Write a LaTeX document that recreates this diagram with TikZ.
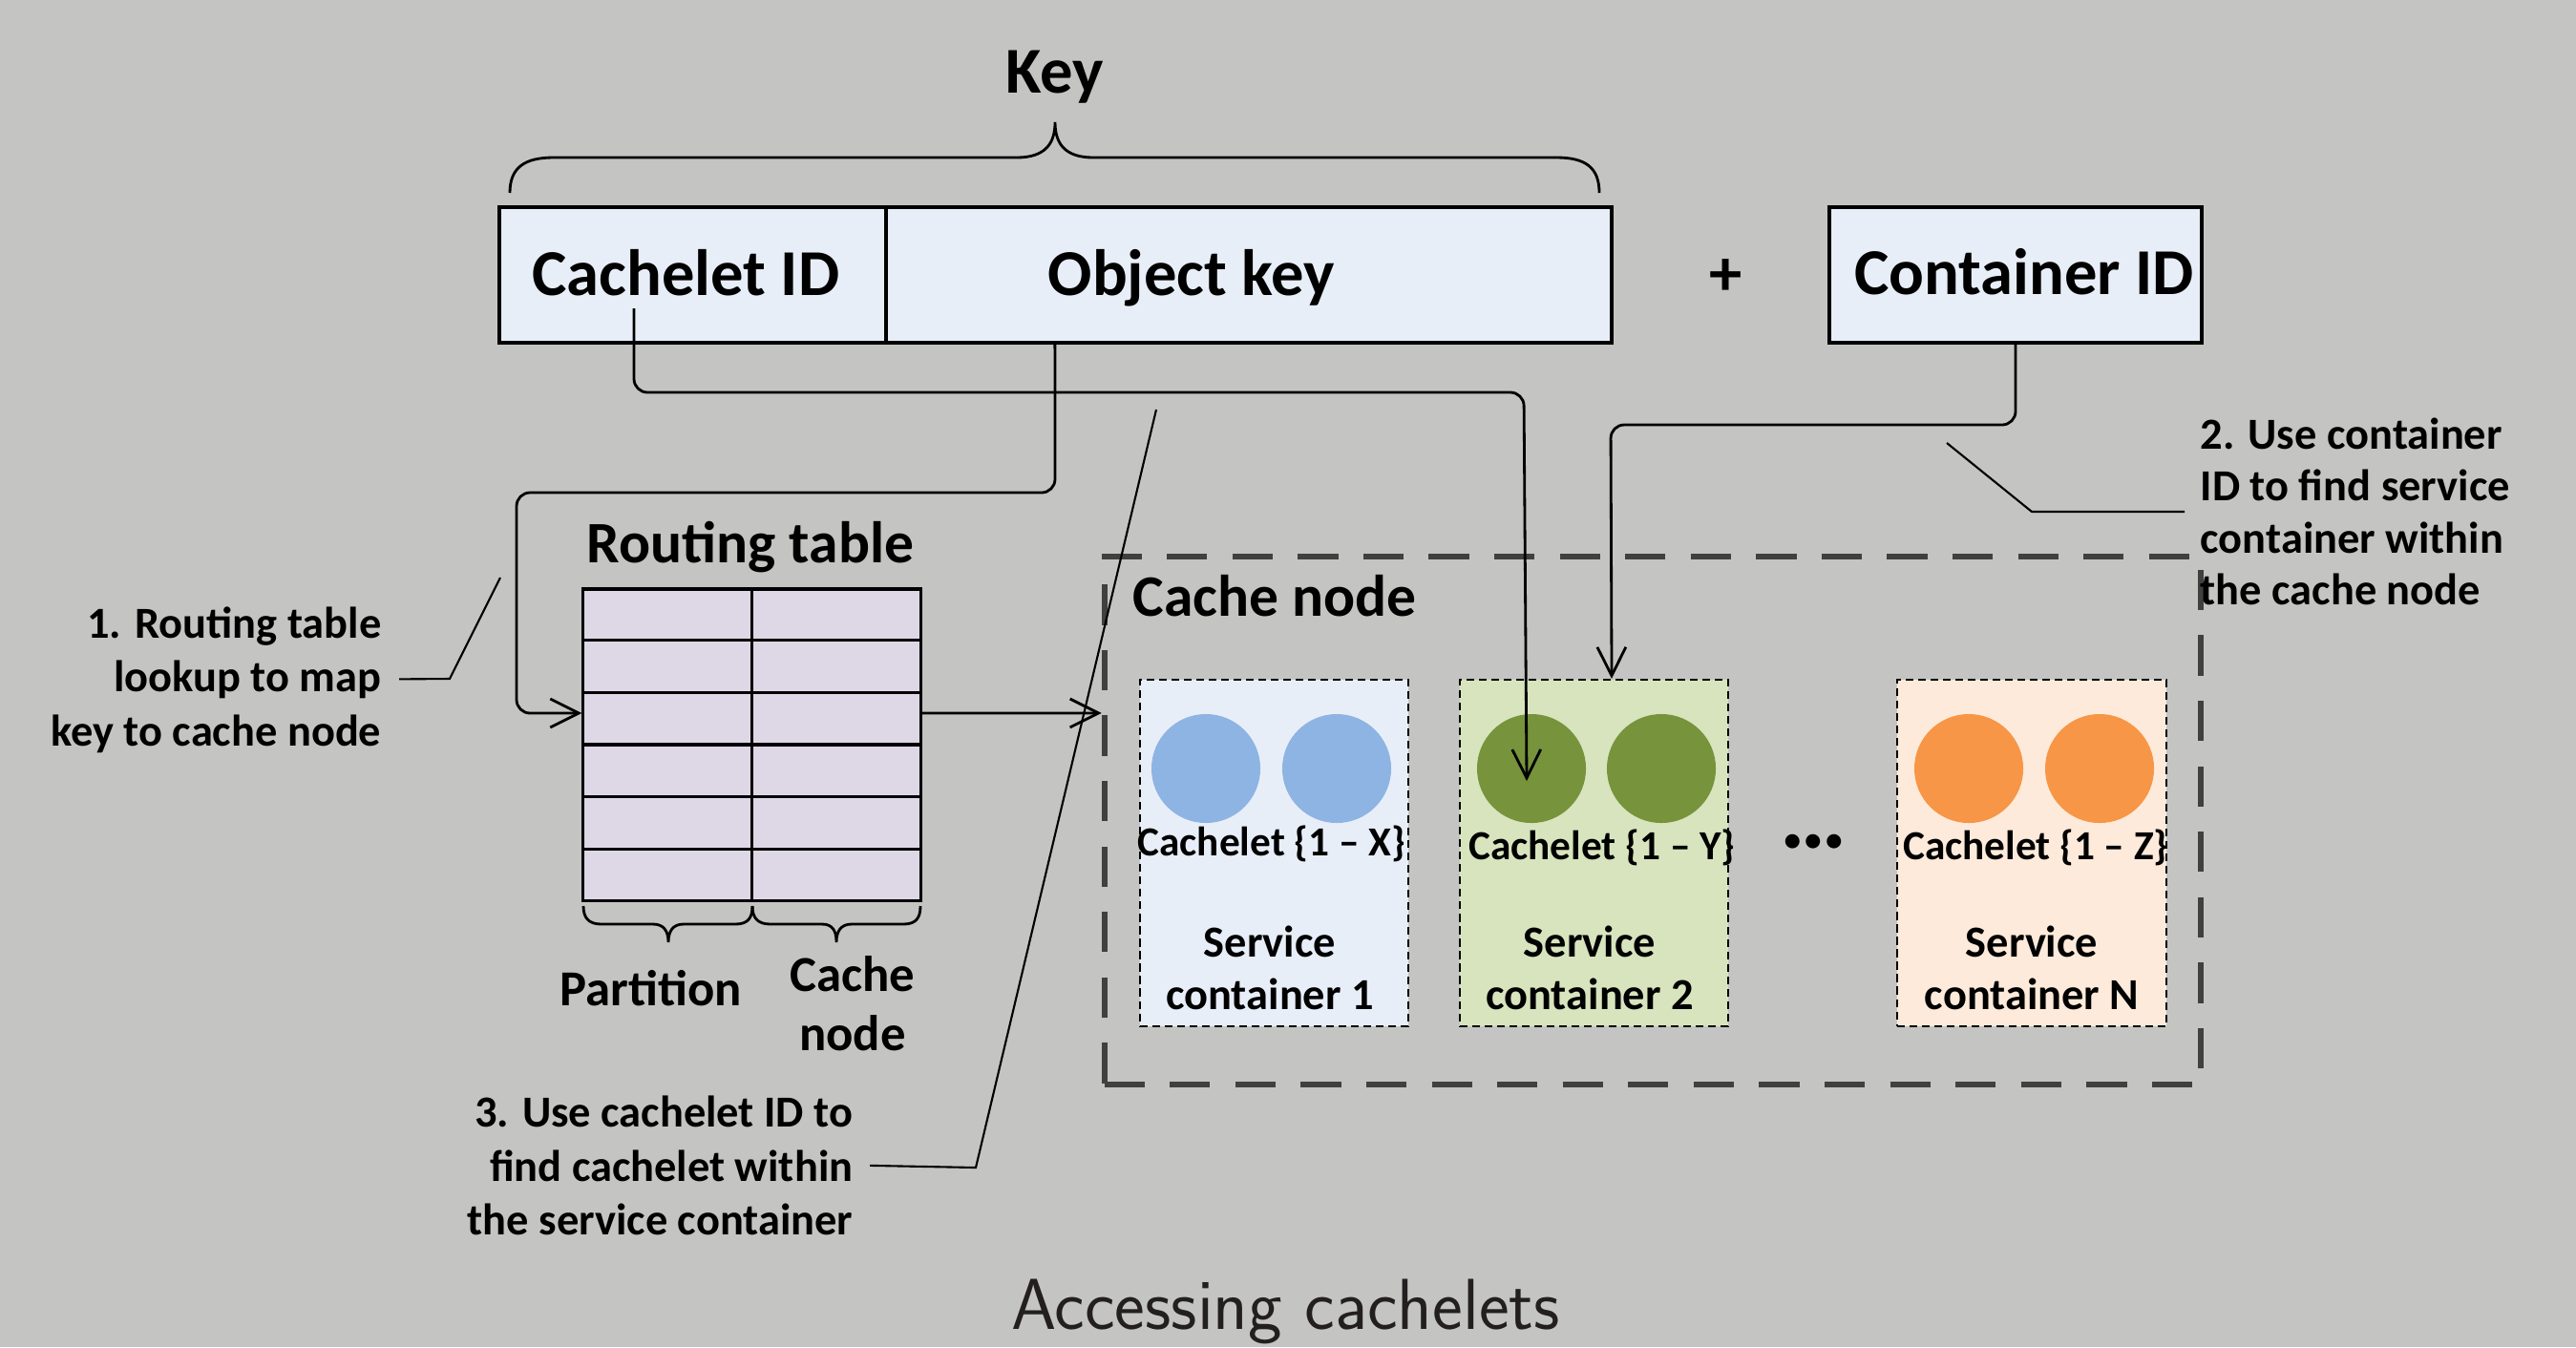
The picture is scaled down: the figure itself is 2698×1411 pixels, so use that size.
\documentclass[tikz,border=0pt]{standalone}
\usepackage{fontspec}
\setmainfont{Carlito}
\usetikzlibrary{arrows.meta,calc}
\definecolor{bgc}{RGB}{196,197,195}
\definecolor{keyfill}{RGB}{232,238,247}
\definecolor{tblfill}{RGB}{221,215,230}
\definecolor{svcfilla}{RGB}{232,238,248}
\definecolor{svcfillb}{RGB}{215,228,189}
\definecolor{svcfillc}{RGB}{253,234,218}
\definecolor{blu}{RGB}{142,180,227}
\definecolor{grn}{RGB}{119,147,60}
\definecolor{org}{RGB}{247,150,70}
\definecolor{nodegray}{RGB}{64,64,64}
\definecolor{captc}{RGB}{35,31,32}
\newcommand\myfbig{\fontsize{19.5}{23}\selectfont\bfseries}
\newcommand\myfmed{\fontsize{17.5}{21}\selectfont\bfseries}
\newcommand\myfpart{\fontsize{15}{18}\selectfont\bfseries}
\newcommand\myfann{\fontsize{13.2}{16}\selectfont\bfseries}
\newcommand\myfcl{\fontsize{12.3}{15}\selectfont\bfseries}
\begin{document}
\begin{tikzpicture}[x=0.01cm,y=-0.01cm,
  every node/.style={inner sep=0pt},
  keybox/.style={draw=black, fill=keyfill, line width=1pt, minimum height=1.42cm},
  conn/.style={line width=0.8pt, rounded corners=4pt},
  arr/.style={-{Straight Barb[length=8.5pt,width=8.5pt]}},
  lead/.style={line width=0.6pt},
  svc/.style={draw=black, line width=0.6pt, dash pattern=on 2.3pt off 1.4pt, minimum width=2.81cm, minimum height=3.63cm},
  cachelet/.style={circle, minimum size=1.14cm},
  tbl/.style={line width=0.9pt},
  bigt/.style={font=\myfbig},
  medt/.style={font=\myfmed},
  partt/.style={font=\myfpart},
  annt/.style={font=\myfann},
  clt/.style={font=\myfcl},
  bracel/.style={line width=0.8pt}
]
\fill[bgc] (0,0) rectangle (2698,1411);
\useasboundingbox (0,0) rectangle (2698,1411);

% ---- Key ----
\node[bigt, anchor=base] (keylbl) at (1105,97) {Key};
\draw[bracel] (534,202) .. controls (534,175) and (550,165) .. (580,165) -- (1065,165)
  .. controls (1095,165) and (1105,150) .. (1105,128)
  .. controls (1105,150) and (1115,165) .. (1145,165) -- (1630,165)
  .. controls (1660,165) and (1675,175) .. (1675,202);

\node[keybox, minimum width=4.05cm] (cid) at (725.5,288) {};
\node[keybox, minimum width=7.6cm] (okey) at (1308,288) {};
\node[keybox, minimum width=3.9cm] (contid) at (2111,288) {};
\node[bigt, anchor=base] (cidl) at (718.5,309) {Cachelet ID};
\node[bigt, anchor=base] (okeyl) at (1248,309) {Object key};
\node[bigt, anchor=base] (contidl) at (2120,308) {Container ID};
\node[bigt] (plus) at (1808,290) {+};

% ---- Routing table ----
\node[medt, anchor=base] (rtl) at (786,589) {Routing table};
\node[draw=black, fill=tblfill, tbl, minimum width=3.53cm, minimum height=3.26cm] (rt) at (787.5,780) {};
\draw[tbl] (rt.north) -- (rt.south);
\foreach \i in {1,...,5}
  \draw[tbl] ($(rt.north west)!\i/6!(rt.south west)$) -- ($(rt.north east)!\i/6!(rt.south east)$);
\draw[bracel] (611,949) .. controls (611,962) and (617,968) .. (630,968) -- (684,968)
  .. controls (695,968) and (700,975) .. (700,987)
  .. controls (700,975) and (705,968) .. (716,968) -- (770,968)
  .. controls (783,968) and (788,962) .. (788,949);
\draw[bracel] (788,949) .. controls (788,962) and (794,968) .. (807,968) -- (861,968)
  .. controls (872,968) and (876,975) .. (876,987)
  .. controls (876,975) and (881,968) .. (892,968) -- (946,968)
  .. controls (959,968) and (964,962) .. (964,949);
\node[partt, anchor=base] (partl) at (682,1053) {Partition};
\node[partt, anchor=base] (cnla) at (893,1038) {Cache};
\node[partt, anchor=base] (cnlb) at (893,1100) {node};

% ---- Cache node ----
\node[draw=nodegray, line width=1.7pt, dash pattern=on 12pt off 7.5pt, minimum width=11.48cm, minimum height=5.53cm] (cnode) at (1731,859.5) {};
\node[medt, anchor=base west] (cnodel) at (1186,645) {Cache node};

\node[svc, fill=svcfilla] (c1) at (1334.5,893.5) {};
\node[svc, fill=svcfillb] (c2) at (1669.5,893.5) {};
\node[svc, fill=svcfillc, minimum width=2.82cm] (c3) at (2128,893.5) {};

\node[cachelet, fill=blu] (b1) at (1263,805) {};
\node[cachelet, fill=blu] (b2) at (1400,805) {};
\node[cachelet, fill=grn] (g1) at (1604,805) {};
\node[cachelet, fill=grn] (g2) at (1740,805) {};
\node[cachelet, fill=org] (o1) at (2062,805) {};
\node[cachelet, fill=org] (o2) at (2199,805) {};

\node[clt, anchor=base] (cl1) at (1332,896) {Cachelet \{1 – X\}};
\node[clt, anchor=base] (cl2) at (1678,900) {Cachelet \{1 – Y\}};
\node[clt, anchor=base] (cl3) at (2132,900) {Cachelet \{1 – Z\}};
\node[font=\fontsize{10}{12}\selectfont\bfseries] (dots) at (1899,883) {•\kern1.2pt•\kern1.2pt•};

\node[annt, anchor=base] (s1a) at (1330,1002) {Service};
\node[annt, anchor=base] (s1b) at (1330,1057) {container 1};
\node[annt, anchor=base] (s2a) at (1665,1002) {Service};
\node[annt, anchor=base] (s2b) at (1665,1057) {container 2};
\node[annt, anchor=base] (s3a) at (2128,1002) {Service};
\node[annt, anchor=base] (s3b) at (2128,1057) {container N};

% ---- Connectors ----
\coordinate (s2) at (664,323);
\draw[conn, arr] ([xshift=-2.03cm]okey.south) -- (1105,516) -- (541,516) -- (541,747) -- ([yshift=0.33cm]rt.west);
\draw[conn, arr] (s2) -- (664,411) -- (1596,411) -- ([xshift=-0.05cm,yshift=-0.13cm]g1.center);
\draw[conn, arr] (contid.south) -- (2111,445) -- (1687,445) -- ([xshift=0.185cm]c2.north);
\draw[conn, arr] ([yshift=0.33cm]rt.east) -- ([yshift=1.125cm]cnode.west);

% ---- Annotations ----
\node[annt, anchor=base east] (a1a) at (400,668) {1. Routing table};
\node[annt, anchor=base east] (a1b) at (400,724) {lookup to map};
\node[annt, anchor=base east] (a1c) at (400,781) {key to cache node};
\draw[lead] ([xshift=0.18cm]a1b.east) -- (471,711) -- (524,605);

\node[annt, anchor=base west] (a2a) at (2304,470) {2. Use container};
\node[annt, anchor=base west] (a2b) at (2304,524) {ID to find service};
\node[annt, anchor=base west] (a2c) at (2304,579) {container within};
\node[annt, anchor=base west] (a2d) at (2304,633) {the cache node};
\coordinate (l2s) at (2288,536);
\draw[lead] (l2s) -- (2128,536) -- (2039,464);

\node[annt, anchor=base east] (a3a) at (894,1180) {3. Use cachelet ID to};
\node[annt, anchor=base east] (a3b) at (894,1237) {find cachelet within};
\node[annt, anchor=base east] (a3c) at (894,1293) {the service container};
\draw[lead] ([xshift=0.17cm]a3b.east) -- (1022,1223) -- (1211,429);

% ---- Caption ----
\node[font=\sffamily\fontsize{21.5}{25}\selectfont, text=captc, anchor=base] (cap) at (1346.5,1392) {Accessing cachelets};
\end{tikzpicture}
\end{document}
